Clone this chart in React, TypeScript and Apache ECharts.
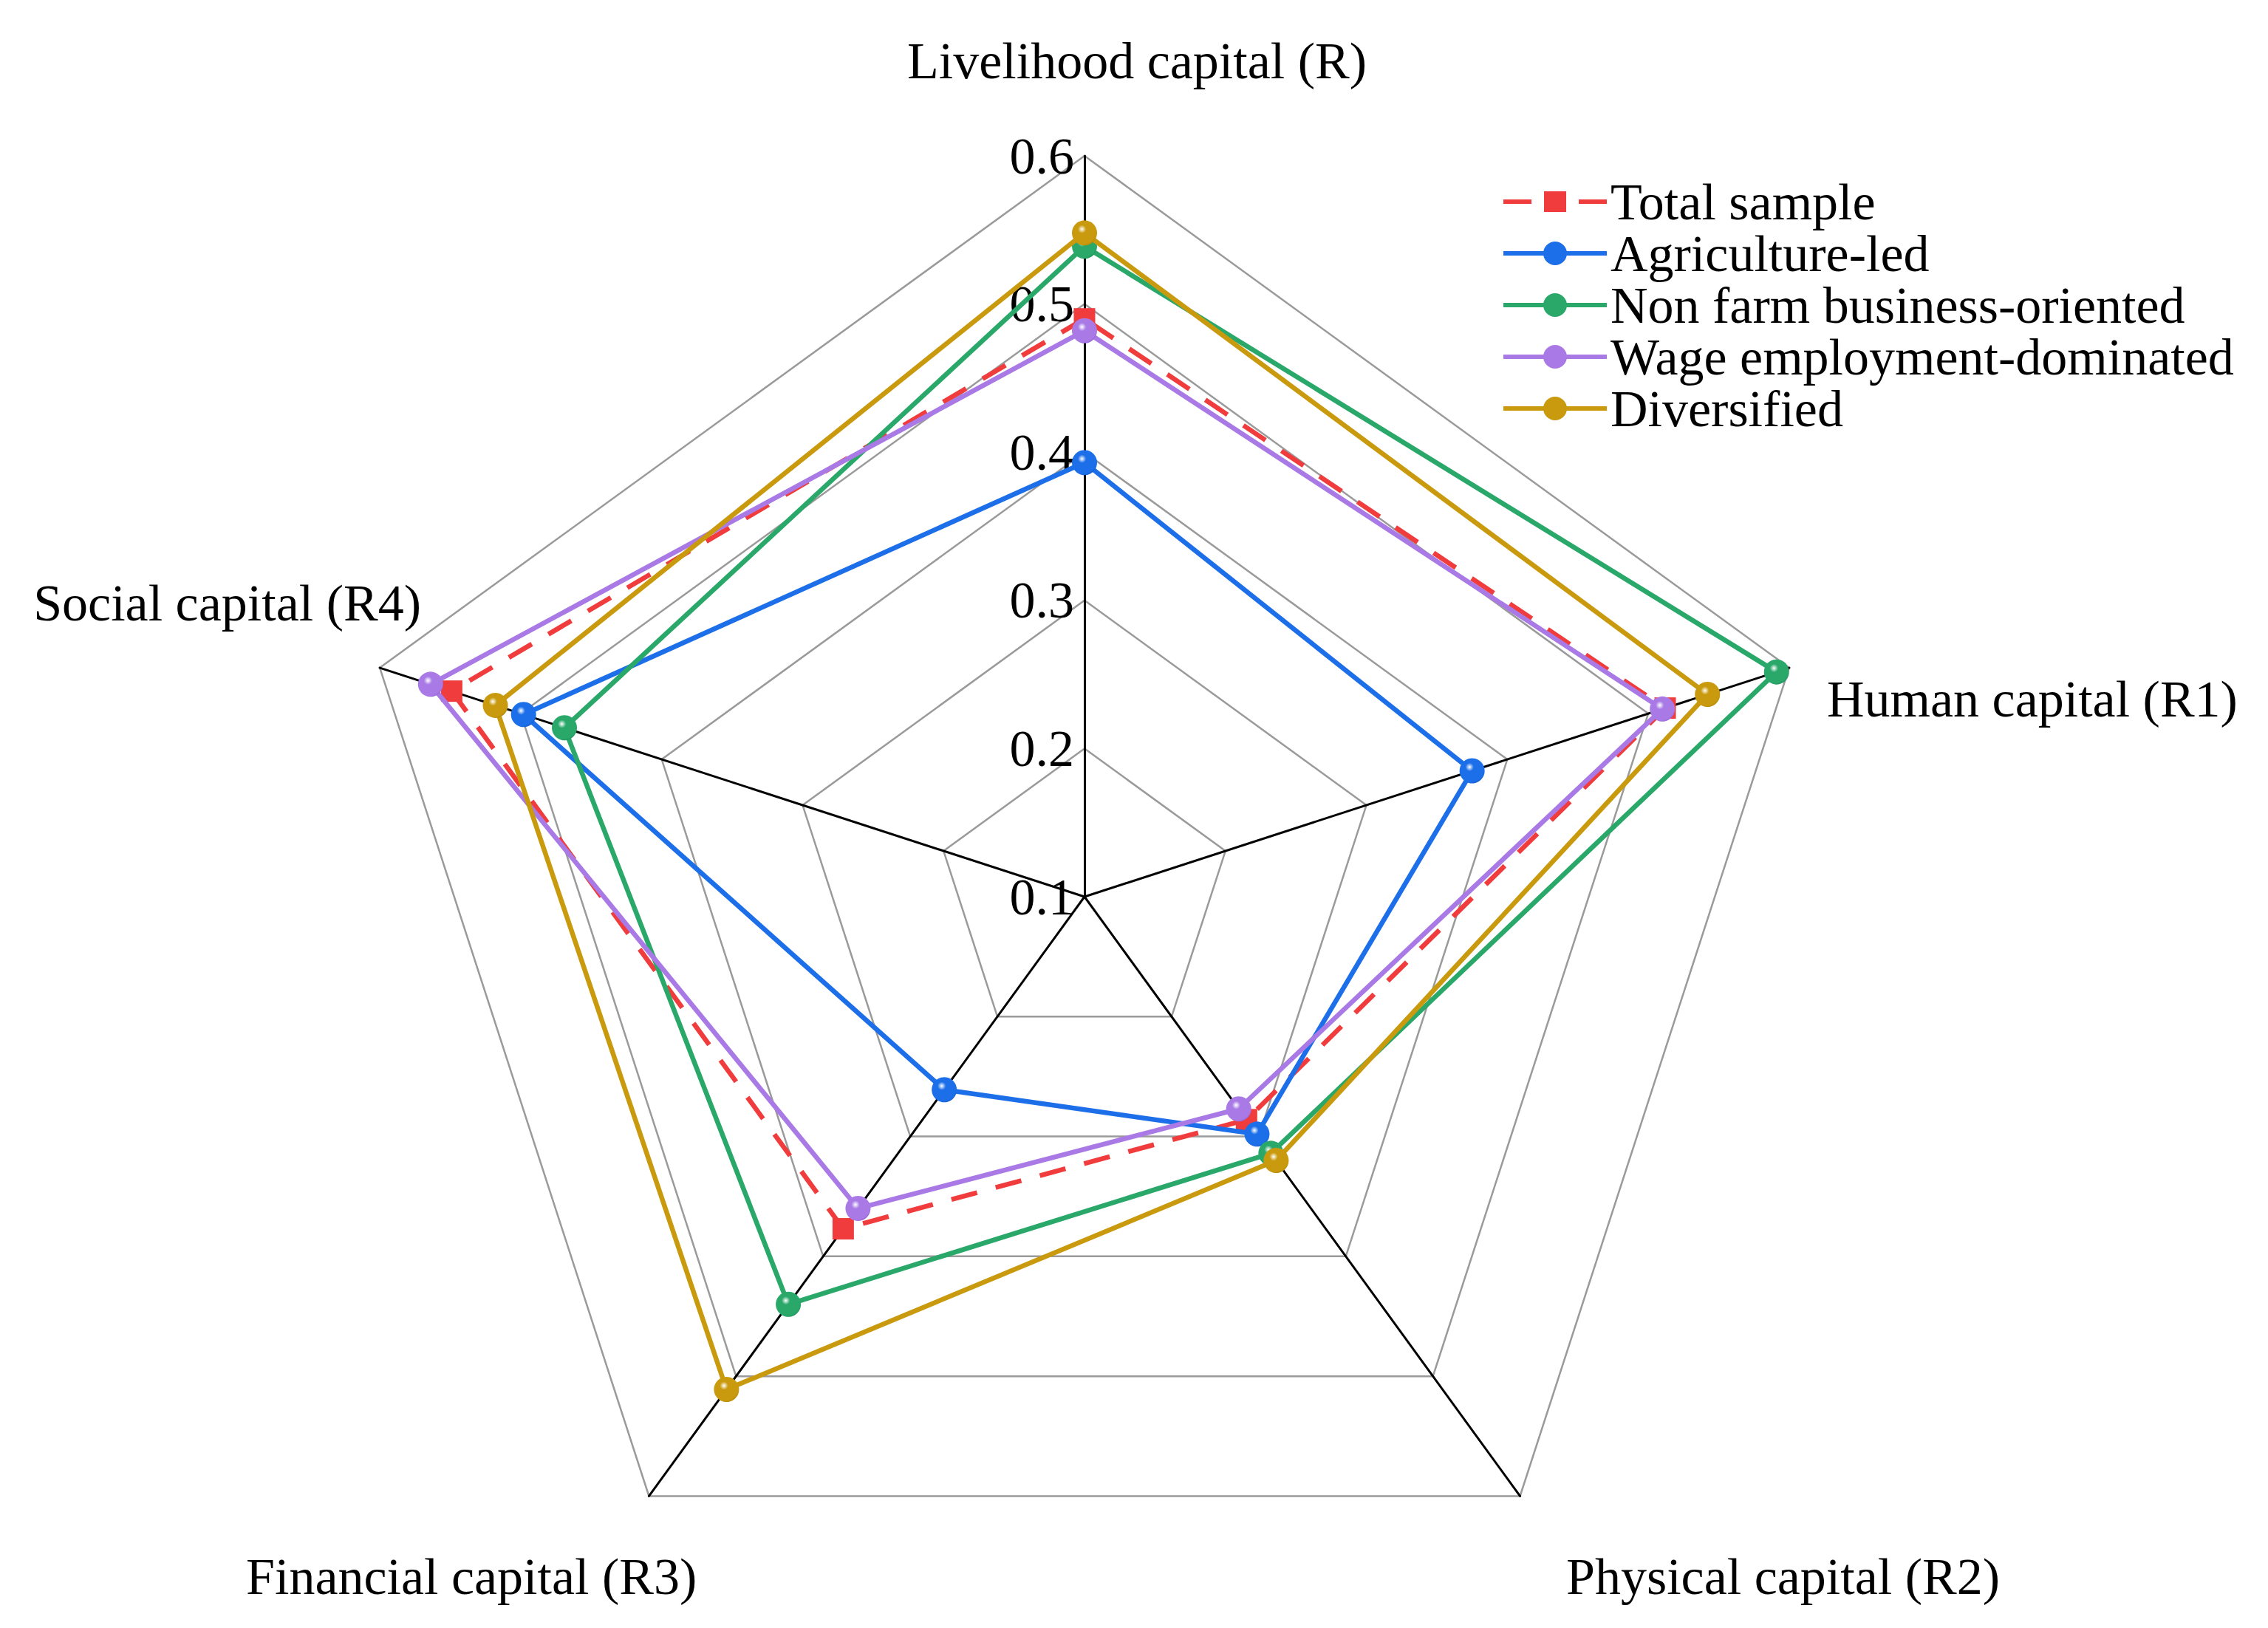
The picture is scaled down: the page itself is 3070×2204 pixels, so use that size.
import React, { useEffect, useRef } from "react";
import * as echarts from "echarts";

// ---- data ----
const indicatorNames = [
  "Livelihood capital (R)",
  "Human capital (R1)",
  "Physical capital (R2)",
  "Financial capital (R3)",
  "Social capital (R4)",
];
const axisMin = 0.1;
const axisMax = 0.6;
const tickLabels = [0.1, 0.2, 0.3, 0.4, 0.5, 0.6];
const seriesNames = [
  "Total sample",
  "Agriculture-led",
  "Non farm business-oriented",
  "Wage employment-dominated",
  "Diversified",
];
// values in order R, R1, R2, R3, R4
const totalSample = [0.49, 0.512, 0.286, 0.377, 0.549];
const agricultureLed = [0.393, 0.375, 0.298, 0.261, 0.498];
const nonFarm = [0.539, 0.591, 0.314, 0.44, 0.469];
const wageEmployment = [0.482, 0.51, 0.277, 0.36, 0.564];
const diversified = [0.548, 0.542, 0.32, 0.511, 0.518];
const seriesValues = [totalSample, agricultureLed, nonFarm, wageEmployment, diversified];

// ---- styles ----
const FONT = "'Liberation Serif', 'Times New Roman', serif";
const lineColors = ["#F03C3C", "#1C6FE8", "#2AA86A", "#A97AE6", "#C99A0E"];
const darkColors = ["#D02828", "#0E4FB8", "#17844E", "#8656C8", "#A47A00"];
// ECharts radar places indicators counter-clockwise from the top
const radarOrder = [0, 4, 3, 2, 1];

const CX = 1468;
const CY = 1214;
const R = 1003;

function sphere(base: string, dark: string) {
  return {
    type: "radial",
    x: 0.4,
    y: 0.35,
    r: 0.75,
    colorStops: [
      { offset: 0, color: "#ffffff" },
      { offset: 0.22, color: base },
      { offset: 0.8, color: base },
      { offset: 1, color: dark },
    ],
  };
}

const circleIcon = "path://M0,13h140v6H0z M54,16a16,16 0 1,1 32,0a16,16 0 1,1 -32,0z";
const dashSquareIcon = "path://M0,13h38v6H0z M55,2h30v28H55z M102,13h38v6h-38z";

export default function App() {
  const ref = useRef<HTMLDivElement>(null);
  useEffect(() => {
    if (!ref.current) return;
    const chart = echarts.init(ref.current, undefined, { renderer: "svg" });

    const series: any[] = seriesNames.map((name, i) => ({
      type: "radar",
      name,
      z: 2 + i,
      symbol: i === 0 ? "rect" : "circle",
      symbolSize: i === 0 ? 29 : 34,
      lineStyle: {
        color: lineColors[i],
        width: 6.5,
        type: i === 0 ? [36, 26] : "solid",
      },
      itemStyle: {
        color: i === 0 ? lineColors[0] : sphere(lineColors[i], darkColors[i]),
        borderWidth: 0,
      },
      data: [
        {
          name,
          value: radarOrder.map((k) => seriesValues[i][k]),
        },
      ],
    }));

    const namePos = [
      { x: 1228, y: 82, align: "left" },
      { x: 2473, y: 946, align: "left" },
      { x: 2120, y: 2134, align: "left" },
      { x: 333, y: 2134, align: "left" },
      { x: 570, y: 816, align: "right" },
    ];

    chart.setOption({
      animation: false,
      backgroundColor: "#ffffff",
      textStyle: { fontFamily: FONT },
      legend: {
        orient: "vertical",
        left: 2030,
        top: 233,
        itemWidth: 140,
        itemHeight: 34,
        itemGap: 0,
        selectedMode: false,
        textStyle: { fontSize: 70, lineHeight: 70, color: "#000", fontFamily: FONT },
        data: seriesNames.map((name, i) => ({
          name,
          icon: i === 0 ? dashSquareIcon : circleIcon,
          itemStyle: { color: lineColors[i] },
        })),
      },
      radar: {
        center: [CX, CY],
        radius: R,
        startAngle: 90,
        splitNumber: tickLabels.length - 1,
        shape: "polygon",
        indicator: radarOrder.map((k) => ({
          name: indicatorNames[k],
          min: axisMin,
          max: axisMax,
        })),
        axisName: { show: false },
        axisLine: { lineStyle: { color: "#000", width: 3 } },
        splitLine: { lineStyle: { color: "#9a9a9a", width: 2.5 } },
        splitArea: { show: false },
        axisTick: { show: false },
        axisLabel: { show: false },
      },
      grid: { left: CX, top: CY - R, width: 1, height: R, containLabel: false },
      xAxis: { type: "value", show: false },
      yAxis: {
        type: "value",
        min: tickLabels[0],
        max: tickLabels[tickLabels.length - 1],
        interval: 0.1,
        axisLine: { show: false },
        axisTick: { show: false },
        splitLine: { show: false },
        axisLabel: {
          margin: 14,
          fontSize: 70,
          color: "#000",
          fontFamily: FONT,
          formatter: (v: number) => v.toFixed(1),
        },
      },
      graphic: namePos.map((p, k) => ({
        type: "text",
        x: p.x,
        y: p.y,
        silent: true,
        style: {
          text: indicatorNames[k],
          fontSize: 70,
          fontFamily: FONT,
          fill: "#000",
          textAlign: p.align,
          align: p.align,
          textVerticalAlign: "middle",
          verticalAlign: "middle",
        },
      })),
      series,
    });
    return () => chart.dispose();
  }, []);
  return (
    <div
      ref={ref}
      style={{ position: "fixed", left: 0, top: 0, width: 3070, height: 2204 }}
    />
  );
}
